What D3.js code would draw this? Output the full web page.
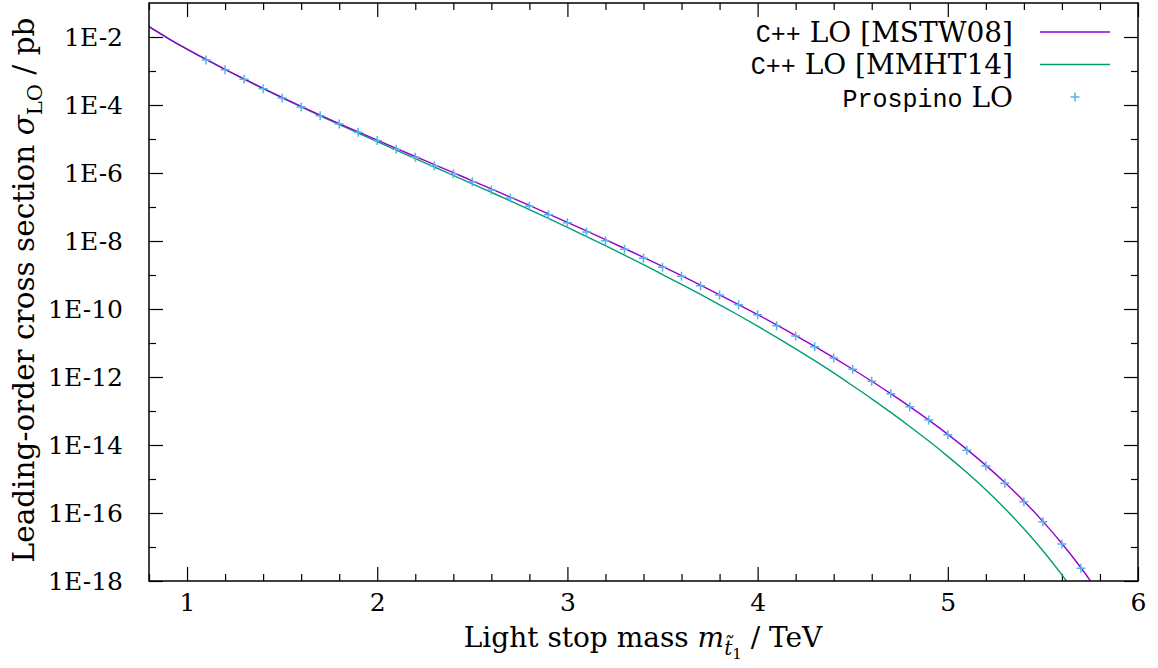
<!DOCTYPE html>
<meta charset="utf-8">
<style>
  body { margin: 0; background: #fff; }
  text { font-family: "DejaVu Serif", serif; fill: #000; }
  .mono { font-family: "Liberation Mono", monospace; }
</style>
<svg id="chart" width="1158" height="668"></svg>
<script src="https://d3js.org/d3.v7.min.js"></script>
<script>

// stop masses in TeV
var mass = [0.8, 0.9, 1.0, 1.1, 1.2, 1.3, 1.4, 1.5, 1.6, 1.7, 1.8, 1.9,
            2.0, 2.1, 2.2, 2.3, 2.4, 2.5, 2.6, 2.7, 2.8, 2.9,
            3.0, 3.1, 3.2, 3.3, 3.4, 3.5, 3.6, 3.7, 3.8, 3.9,
            4.0, 4.1, 4.2, 4.3, 4.4, 4.5, 4.6, 4.7, 4.8, 4.9,
            5.0, 5.1, 5.2, 5.3, 5.4, 5.5, 5.6, 5.7, 5.8];

// C++ LO, MSTW08 (pb)
var mstw08 = [2.01e-2, 9.16e-3, 4.38e-3, 2.18e-3, 1.11e-3, 5.82e-4, 3.09e-4, 1.67e-4, 9.13e-5, 5.06e-5, 2.85e-5, 1.62e-5,
              9.25e-6, 5.31e-6, 3.06e-6, 1.77e-6, 1.02e-6, 5.90e-7, 3.40e-7, 1.95e-7, 1.11e-7, 6.29e-8,
              3.54e-8, 1.98e-8, 1.10e-8, 6.04e-9, 3.30e-9, 1.78e-9, 9.51e-10, 5.03e-10, 2.62e-10, 1.35e-10,
              6.84e-11, 3.41e-11, 1.66e-11, 7.94e-12, 3.71e-12, 1.69e-12, 7.50e-13, 3.23e-13, 1.34e-13, 5.38e-14,
              2.06e-14, 7.45e-15, 2.52e-15, 7.87e-16, 2.23e-16, 5.68e-17, 1.27e-17, 2.45e-18, 3.99e-19];

// C++ LO, MMHT14 (pb)
var mmht14 = [2.01e-2, 9.16e-3, 4.38e-3, 2.18e-3, 1.107e-3, 5.74e-4, 3.03e-4, 1.61e-4, 8.76e-5, 4.80e-5, 2.66e-5, 1.49e-5,
              8.36e-6, 4.70e-6, 2.65e-6, 1.50e-6, 8.50e-7, 4.81e-7, 2.70e-7, 1.51e-7, 8.36e-8, 4.61e-8,
              2.52e-8, 1.36e-8, 7.30e-9, 3.86e-9, 2.01e-9, 1.03e-9, 5.27e-10, 2.68e-10, 1.33e-10, 6.55e-11,
              3.14e-11, 1.47e-11, 6.75e-12, 3.02e-12, 1.32e-12, 5.53e-13, 2.28e-13, 9.10e-14, 3.51e-14, 1.31e-14,
              4.64e-15, 1.55e-15, 4.80e-16, 1.35e-16, 3.44e-17, 7.76e-18, 1.51e-18, 2.45e-19, 3.0e-20];

// Prospino LO points
var prospinoMass = [1.1, 1.2, 1.3, 1.4, 1.5, 1.6, 1.7, 1.8, 1.9,
                    2.0, 2.1, 2.2, 2.3, 2.4, 2.5, 2.6, 2.7, 2.8, 2.9,
                    3.0, 3.1, 3.2, 3.3, 3.4, 3.5, 3.6, 3.7, 3.8, 3.9,
                    4.0, 4.1, 4.2, 4.3, 4.4, 4.5, 4.6, 4.7, 4.8, 4.9,
                    5.0, 5.1, 5.2, 5.3, 5.4, 5.5, 5.6, 5.7];
var prospino = [2.11e-3, 1.09e-3, 5.70e-4, 3.01e-4, 1.61e-4, 8.73e-5, 4.84e-5, 2.76e-5, 1.57e-5,
                9.04e-6, 4.98e-6, 2.90e-6, 1.64e-6, 9.53e-7, 5.55e-7, 3.16e-7, 1.84e-7, 1.05e-7, 5.94e-8,
                3.43e-8, 1.84e-8, 1.02e-8, 5.70e-9, 3.10e-9, 1.68e-9, 9.16e-10, 4.84e-10, 2.58e-10, 1.34e-10,
                6.79e-11, 3.23e-11, 1.61e-11, 7.78e-12, 3.62e-12, 1.68e-12, 7.48e-13, 3.23e-13, 1.34e-13, 5.43e-14,
                2.01e-14, 6.98e-15, 2.41e-15, 7.48e-16, 2.15e-16, 5.55e-17, 1.22e-17, 2.37e-18];

var xMajor = [1, 2, 3, 4, 5, 6];
var yMajor = [1e-18, 1e-16, 1e-14, 1e-12, 1e-10, 1e-8, 1e-6, 1e-4, 1e-2];
var yMinor = [1e-17, 1e-15, 1e-13, 1e-11, 1e-9, 1e-7, 1e-5, 1e-3];

var svg = d3.select("#chart");
var margin = {top: 3, right: 20, bottom: 87, left: 149};
var width = 1158 - margin.left - margin.right;
var height = 668 - margin.top - margin.bottom;

var g = svg.append("g").attr("transform", "translate(" + margin.left + "," + margin.top + ")");

var x = d3.scaleLinear().domain([0.8, 6]).range([0, width]);
var y = d3.scaleLog().domain([1e-18, 1e-1]).range([height, 0]);

var xMinor = d3.range(0.8, 6.01, 0.2).map(function(d) { return +d.toFixed(1); })
  .filter(function(d) { return xMajor.indexOf(d) < 0; });

function expLabel(d) { return "1E" + Math.round(Math.log10(d)); }

function styleAxis(sel) {
  sel.select(".domain").remove();
  sel.selectAll(".tick line").attr("stroke", "#000").attr("stroke-width", 1.2);
  sel.selectAll(".tick text").style("font-family", "DejaVu Serif").style("font-size", "25px");
}

// left
g.append("g").call(d3.axisLeft(y).tickValues(yMajor).tickFormat(expLabel).tickSize(-14).tickPadding(26)).call(styleAxis);
g.append("g").call(d3.axisLeft(y).tickValues(yMinor).tickFormat("").tickSize(-7)).call(styleAxis);
// right
g.append("g").attr("transform", "translate(" + width + ",0)")
  .call(d3.axisRight(y).tickValues(yMajor).tickFormat("").tickSize(-14)).call(styleAxis);
g.append("g").attr("transform", "translate(" + width + ",0)")
  .call(d3.axisRight(y).tickValues(yMinor).tickFormat("").tickSize(-7)).call(styleAxis);
// bottom
g.append("g").attr("transform", "translate(0," + height + ")")
  .call(d3.axisBottom(x).tickValues(xMajor).tickFormat(d3.format("d")).tickSize(-14).tickPadding(12)).call(styleAxis);
g.append("g").attr("transform", "translate(0," + height + ")")
  .call(d3.axisBottom(x).tickValues(xMinor).tickFormat("").tickSize(-7)).call(styleAxis);
// top
g.append("g").call(d3.axisTop(x).tickValues(xMajor).tickFormat("").tickSize(-14)).call(styleAxis);
g.append("g").call(d3.axisTop(x).tickValues(xMinor).tickFormat("").tickSize(-7)).call(styleAxis);

g.append("clipPath").attr("id", "clip")
  .append("rect").attr("width", width).attr("height", height);

var plot = g.append("g").attr("clip-path", "url(#clip)");

var line = d3.line()
  .x(function(d) { return x(d[0]); })
  .y(function(d) { return y(d[1]); })
  .curve(d3.curveMonotoneX);

plot.append("path")
  .datum(d3.zip(mass, mmht14))
  .attr("d", line).attr("fill", "none").attr("stroke", "#009e73").attr("stroke-width", 1.4);

plot.append("path")
  .datum(d3.zip(mass, mstw08))
  .attr("d", line).attr("fill", "none").attr("stroke", "#9400d3").attr("stroke-width", 1.4);

function plus(sel) {
  sel.append("path")
    .attr("d", "M-4.5,0H4.5M0,-4.5V4.5")
    .attr("stroke", "#56b4e9").attr("stroke-width", 1.5).attr("fill", "none");
}

plot.selectAll(".pt")
  .data(d3.zip(prospinoMass, prospino))
  .enter().append("g")
    .attr("class", "pt")
    .attr("transform", function(d) { return "translate(" + x(d[0]) + "," + y(d[1]) + ")"; })
    .call(plus);

// frame
g.append("rect").attr("width", width).attr("height", height)
  .attr("fill", "none").attr("stroke", "#000").attr("stroke-width", 1.5);

// legend
var legend = [
  {mono: "C++", rest: " LO [MSTW08]", color: "#9400d3", type: "line"},
  {mono: "C++", rest: " LO [MMHT14]", color: "#009e73", type: "line"},
  {mono: "Prospino", rest: " LO", color: "#56b4e9", type: "point"}
];

var lg = svg.append("g");
legend.forEach(function(d, i) {
  var yy = 32 + i * 32.5;
  var t = lg.append("text").attr("x", 1013).attr("y", yy).attr("dy", "0.35em")
    .attr("text-anchor", "end").style("font-size", "28px");
  t.append("tspan").attr("class", "mono").style("font-size", "25px").text(d.mono);
  t.append("tspan").text(d.rest);
  if (d.type === "line") {
    lg.append("line").attr("x1", 1040).attr("x2", 1110).attr("y1", yy).attr("y2", yy)
      .attr("stroke", d.color).attr("stroke-width", 1.4);
  } else {
    lg.append("g").attr("transform", "translate(1075," + yy + ")").call(plus);
  }
});

// axis titles
var xt = svg.append("text").attr("x", 643).attr("y", 647)
  .attr("text-anchor", "middle").style("font-size", "28px");
xt.append("tspan").text("Light stop mass ");
xt.append("tspan").style("font-style", "italic").text("m");
xt.append("tspan").attr("dy", 8).style("font-style", "italic").style("font-size", "20px").text("t\u0303");
xt.append("tspan").attr("dy", 4).style("font-size", "15px").text("1");
xt.append("tspan").attr("dy", -12).text("  / TeV");

var yt = svg.append("text")
  .attr("transform", "translate(34,290) rotate(-90)")
  .attr("text-anchor", "middle").style("font-size", "29.5px");
yt.append("tspan").text("Leading-order cross section ");
yt.append("tspan").style("font-style", "italic").text("\u03c3");
yt.append("tspan").attr("dy", 8).style("font-size", "21px").text("LO");
yt.append("tspan").attr("dy", -8).text(" / pb");

</script>
